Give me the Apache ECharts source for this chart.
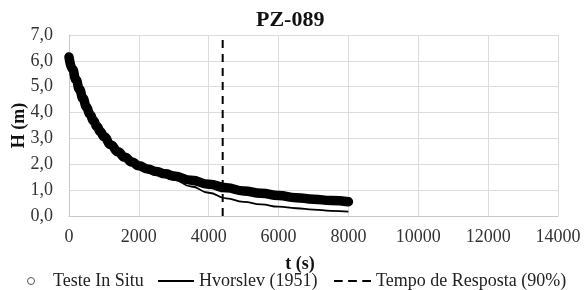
<!DOCTYPE html>
<html>
<head>
<meta charset="utf-8">
<script src="https://cdn.jsdelivr.net/npm/echarts@6/dist/echarts.min.js"></script>
<style>
html,body{margin:0;padding:0;background:#fff;}
#c{width:585px;height:290px;}
</style>
</head>
<body>
<div id="c"></div>
<script>
// Teste In Situ (observed H vs t)
const tObs = [0,100,200,300,400,500,600,700,800,900,1000,1200,1400,1600,1800,2000,2250,2500,2750,3000,3500,4000,4500,5000,5500,6000,6500,7000,7500,8000];
const hObs = [6.15,5.68,5.27,4.90,4.55,4.22,3.93,3.68,3.46,3.26,3.07,2.75,2.48,2.27,2.09,1.94,1.82,1.72,1.63,1.55,1.38,1.23,1.09,0.97,0.88,0.79,0.71,0.65,0.60,0.55];
// Hvorslev (1951) fit
const tHv = [0,250,500,750,1000,1500,2000,2500,3000,3500,4000,4500,5000,5500,6000,6500,7000,7500,8000];
const hHv = [6.15,5.0,4.2,3.55,3.05,2.38,1.92,1.64,1.40,1.14,0.90,0.68,0.55,0.45,0.36,0.30,0.25,0.20,0.17];
// Tempo de Resposta (90%)
const tResp = 4400;
const hRespRange = [0, 7];
const xTicks = {min: 0, max: 14000, interval: 2000};
const yTicks = {min: 0, max: 7, interval: 1};

const obsData = tObs.map((t, i) => [t, hObs[i]]);
const hvData = tHv.map((t, i) => [t, hHv[i]]);
const respData = hRespRange.map(h => [tResp, h]);

const FONT = 'Liberation Serif';
const chart = echarts.init(document.getElementById('c'), null, {renderer: 'canvas'});
const legendText = {fontFamily: FONT, fontSize: 18, color: '#222'};
chart.setOption({
  animation: false,
  backgroundColor: '#fff',
  title: {
    text: 'PZ-089', left: 256, top: 9, padding: 0,
    textStyle: {fontFamily: FONT, fontSize: 22, fontWeight: 'bold', color: '#111'}
  },
  grid: {left: 69, right: 27, top: 35, bottom: 74, containLabel: false, outerBoundsMode: 'none'},
  legend: [
    {data: [{name: 'Teste In Situ', icon: 'circle'}], left: 27, top: 272, padding: 0, itemWidth: 34, itemHeight: 7,
     itemStyle: {color: '#fff', borderColor: '#555', borderWidth: 1}, textStyle: legendText, selectedMode: false},
    {data: [{name: 'Hvorslev (1951)', icon: 'rect'}], left: 158, top: 272, padding: 0, itemWidth: 36, itemHeight: 2,
     itemStyle: {color: '#000', borderWidth: 0}, textStyle: legendText, selectedMode: false},
    {data: [{name: 'Tempo de Resposta (90%)', icon: 'path://M0,0h8v2h-8z M13,0h8v2h-8z M26,0h8v2h-8z'}],
     left: 334, top: 272, padding: 0, itemWidth: 37, itemHeight: 2, symbolKeepAspect: false,
     itemStyle: {color: '#000', borderWidth: 0}, textStyle: legendText, selectedMode: false}
  ],
  xAxis: {
    type: 'value', min: xTicks.min, max: xTicks.max, interval: xTicks.interval,
    name: 't (s)', nameLocation: 'middle', nameGap: 39, nameMoveOverlap: false,
    nameTextStyle: {fontFamily: FONT, fontSize: 18, fontWeight: 'bold', color: '#111', padding: [0, 27, 0, 0]},
    axisLine: {show: true, lineStyle: {color: '#c8c8c8', width: 1}},
    axisTick: {show: false},
    axisLabel: {fontFamily: FONT, fontSize: 18, color: '#333', margin: 12, formatter: v => String(v)},
    splitLine: {show: true, lineStyle: {color: '#dcdcdc', width: 1}}
  },
  yAxis: {
    type: 'value', min: yTicks.min, max: yTicks.max, interval: yTicks.interval,
    name: 'H (m)', nameLocation: 'middle', nameGap: 41, nameMoveOverlap: false,
    nameTextStyle: {fontFamily: FONT, fontSize: 18, fontWeight: 'bold', color: '#111'},
    axisLine: {show: true, lineStyle: {color: '#c8c8c8', width: 1}},
    axisTick: {show: false},
    axisLabel: {fontFamily: FONT, fontSize: 18, color: '#333', margin: 16,
      formatter: v => v.toFixed(1).replace('.', ',')},
    splitLine: {show: true, lineStyle: {color: '#dcdcdc', width: 1}}
  },
  series: [
    {name: 'Hvorslev (1951)', type: 'line', data: hvData, symbol: 'none', smooth: true, smoothMonotone: 'x',
     lineStyle: {color: '#000', width: 1.8}, itemStyle: {color: '#000'}, z: 2},
    {name: 'Teste In Situ', type: 'line', data: obsData, symbol: 'none', smooth: true, smoothMonotone: 'x',
     lineStyle: {color: '#000', width: 9.5, cap: 'round', join: 'round'}, itemStyle: {color: '#000'}, z: 3},
    {name: 'Tempo de Resposta (90%)', type: 'line', data: respData, symbol: 'none',
     lineStyle: {color: '#000', width: 2, type: [8, 6]}, itemStyle: {color: '#000'}, z: 4}
  ]
});
</script>
</body>
</html>
